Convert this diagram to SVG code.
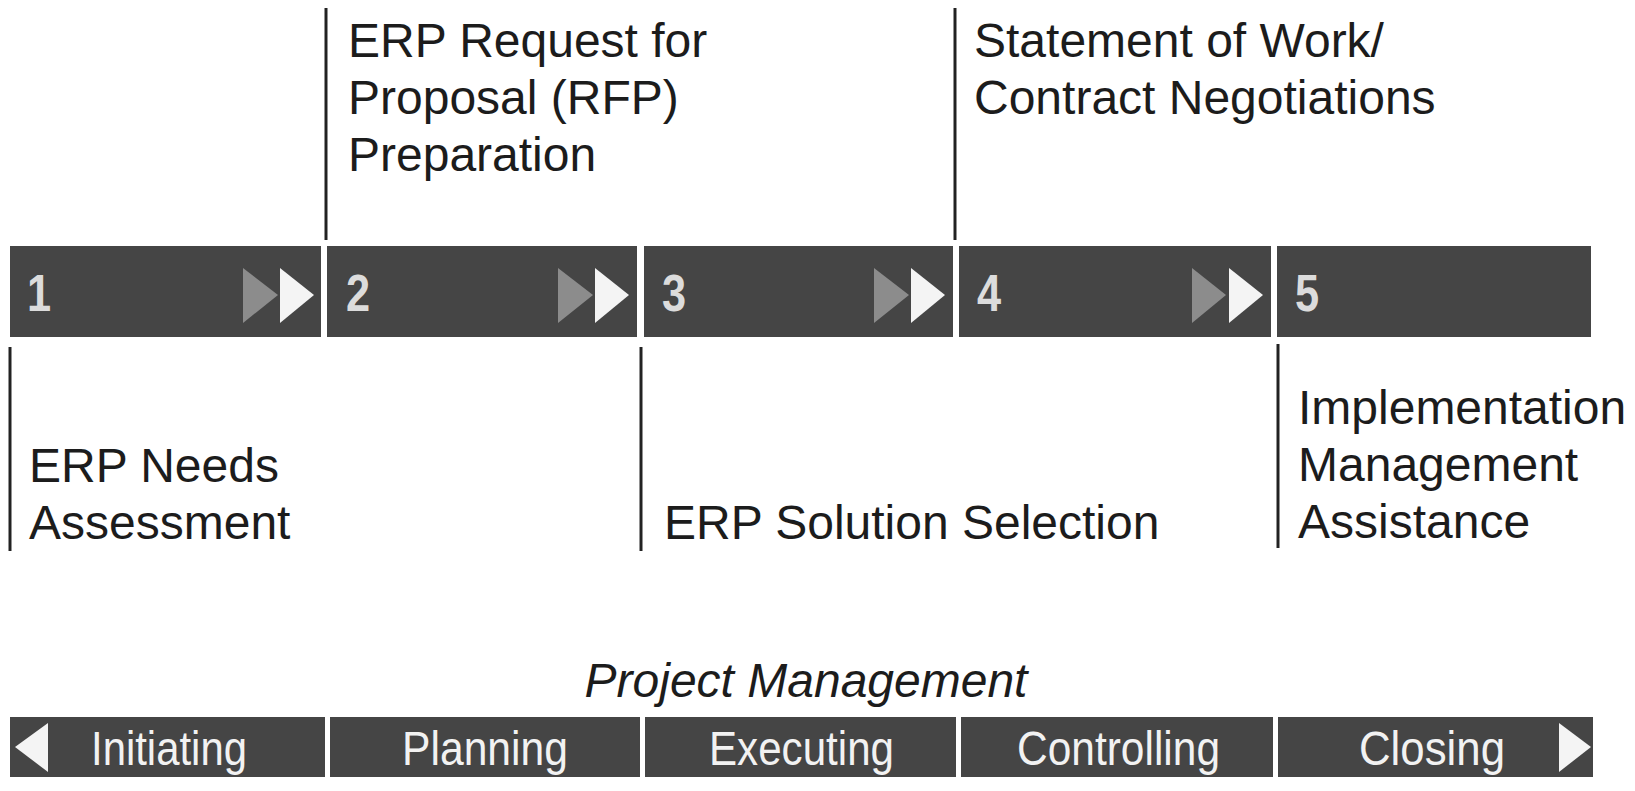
<svg xmlns="http://www.w3.org/2000/svg" width="1635" height="791" viewBox="0 0 1635 791">
  <style>
    .bar { fill: #454545; }
    .num { font-family: "Liberation Sans", Arial, sans-serif; font-weight: bold; font-size: 51px; fill: #dcdcdc; }
    .lbl { font-family: "Liberation Sans", Arial, sans-serif; font-size: 48px; fill: #1c1c1c; }
    .pm { font-family: "Liberation Sans", Arial, sans-serif; font-size: 48px; font-style: italic; fill: #1c1c1c; }
    .stage { font-family: "Liberation Sans", Arial, sans-serif; font-size: 49px; fill: #f2f2f2; }
    .lead { stroke: #222; stroke-width: 3; fill: none; }
    .tri-g { fill: #8c8c8c; }
    .tri-w { fill: #f4f4f4; }
  </style>
  <rect width="1635" height="791" fill="#ffffff"/>

  <!-- leader lines from labels to the phase bar -->
  <g id="connectors">
    <line class="lead" x1="326" y1="8" x2="326" y2="240"/>
    <line class="lead" x1="955" y1="8" x2="955" y2="240"/>
    <line class="lead" x1="10" y1="347" x2="10" y2="551"/>
    <line class="lead" x1="641" y1="347" x2="641" y2="551"/>
    <line class="lead" x1="1278" y1="344" x2="1278" y2="548"/>
  </g>

  <!-- phase bar -->
  <g id="phase-1">
    <rect class="bar" x="10" y="246" width="311" height="91"/>
    <text class="num" x="27" y="311" transform="translate(27 0) scale(0.85 1) translate(-27 0)">1</text>
    <polygon class="tri-g" points="243,268 278,295 243,323"/>
    <polygon class="tri-w" points="280,268 314,295 280,323"/>
  </g>
  <g id="phase-2">
    <rect class="bar" x="327" y="246" width="310" height="91"/>
    <text class="num" x="346" y="311" transform="translate(346 0) scale(0.85 1) translate(-346 0)">2</text>
    <polygon class="tri-g" points="558,268 593,295 558,323"/>
    <polygon class="tri-w" points="595,268 629,295 595,323"/>
  </g>
  <g id="phase-3">
    <rect class="bar" x="644" y="246" width="309" height="91"/>
    <text class="num" x="662" y="311" transform="translate(662 0) scale(0.85 1) translate(-662 0)">3</text>
    <polygon class="tri-g" points="874,268 909,295 874,323"/>
    <polygon class="tri-w" points="911,268 945,295 911,323"/>
  </g>
  <g id="phase-4">
    <rect class="bar" x="959" y="246" width="312" height="91"/>
    <text class="num" x="977" y="311" transform="translate(977 0) scale(0.85 1) translate(-977 0)">4</text>
    <polygon class="tri-g" points="1192,268 1226,295 1192,323"/>
    <polygon class="tri-w" points="1229,268 1263,295 1229,323"/>
  </g>
  <g id="phase-5">
    <rect class="bar" x="1277" y="246" width="314" height="91"/>
    <text class="num" x="1295" y="311" transform="translate(1295 0) scale(0.85 1) translate(-1295 0)">5</text>
  </g>

  <!-- phase labels -->
  <g id="label-rfp">
    <text class="lbl" x="348" y="57">ERP Request for</text>
    <text class="lbl" x="348" y="114">Proposal (RFP)</text>
    <text class="lbl" x="348" y="171">Preparation</text>
  </g>
  <g id="label-sow">
    <text class="lbl" x="974" y="57">Statement of Work/</text>
    <text class="lbl" x="974" y="114">Contract Negotiations</text>
  </g>
  <g id="label-needs">
    <text class="lbl" x="29" y="482">ERP Needs</text>
    <text class="lbl" x="29" y="539">Assessment</text>
  </g>
  <g id="label-selection">
    <text class="lbl" x="664" y="539">ERP Solution Selection</text>
  </g>
  <g id="label-implementation">
    <text class="lbl" x="1298" y="424">Implementation</text>
    <text class="lbl" x="1298" y="481">Management</text>
    <text class="lbl" x="1298" y="538">Assistance</text>
  </g>

  <!-- project management process groups -->
  <g id="project-management">
    <text class="pm" x="806" y="697" text-anchor="middle">Project Management</text>
  </g>
  <g id="stage-initiating">
    <rect class="bar" x="10" y="717" width="315" height="60"/>
    <polygon class="tri-w" points="48,723 15,747 48,772"/>
    <text class="stage" x="91" y="765" textLength="156" lengthAdjust="spacingAndGlyphs">Initiating</text>
  </g>
  <g id="stage-planning">
    <rect class="bar" x="330" y="717" width="310" height="60"/>
    <text class="stage" x="402" y="765" textLength="166" lengthAdjust="spacingAndGlyphs">Planning</text>
  </g>
  <g id="stage-executing">
    <rect class="bar" x="645" y="717" width="311" height="60"/>
    <text class="stage" x="709" y="765" textLength="185" lengthAdjust="spacingAndGlyphs">Executing</text>
  </g>
  <g id="stage-controlling">
    <rect class="bar" x="961" y="717" width="312" height="60"/>
    <text class="stage" x="1017" y="765" textLength="203" lengthAdjust="spacingAndGlyphs">Controlling</text>
  </g>
  <g id="stage-closing">
    <rect class="bar" x="1278" y="717" width="315" height="60"/>
    <text class="stage" x="1359" y="765" textLength="146" lengthAdjust="spacingAndGlyphs">Closing</text>
    <polygon class="tri-w" points="1559,723 1591,747 1559,772"/>
  </g>
</svg>
